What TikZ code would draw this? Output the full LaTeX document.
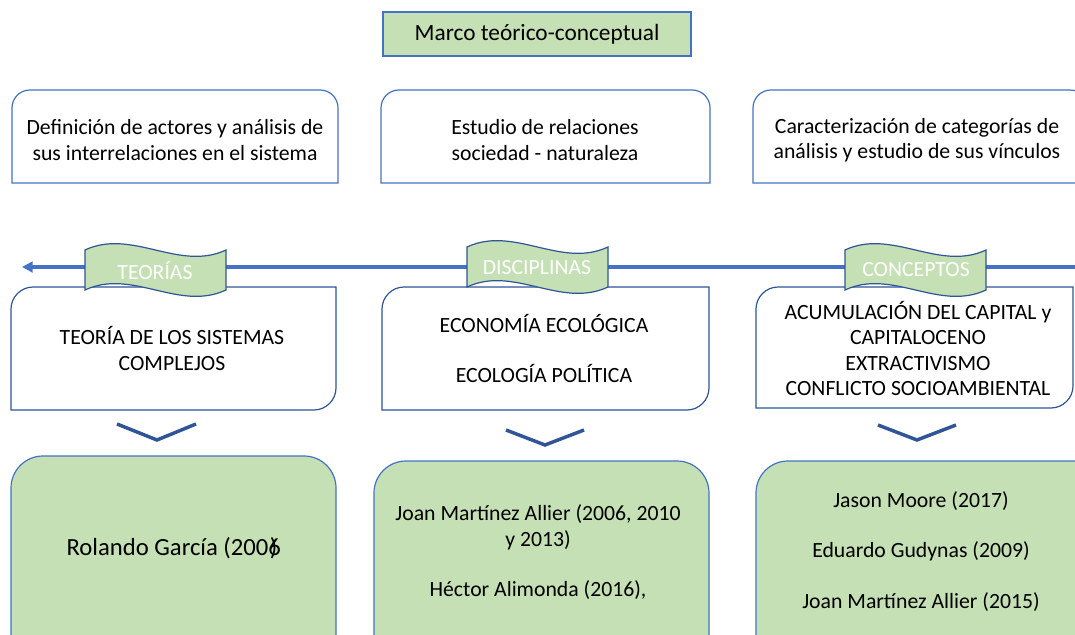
\documentclass[tikz,border=0pt]{standalone}
\usepackage{fontspec}
\setmainfont{Carlito}
\usetikzlibrary{arrows.meta}
\definecolor{blueA}{HTML}{4472C4}
\definecolor{blueB}{HTML}{2F5597}
\definecolor{greenF}{HTML}{C5E0B4}
\begin{document}
\begin{tikzpicture}[x=0.75pt,y=-0.75pt,
  txt/.style={font=\fontsize{16.3}{19}\selectfont, align=center, text=black, inner sep=0pt},
  titletxt/.style={font=\fontsize{17.5}{21}\selectfont, align=center, text=black, inner sep=0pt},
  bigtxt/.style={font=\fontsize{18.5}{21}\selectfont, align=center, text=black, inner sep=0pt},
  bantxt/.style={font=\fontsize{16.3}{19}\selectfont, text=white, inner sep=0pt},
  topbox/.style={draw=blueA, line width=0.9pt, fill=white},
  midbox/.style={draw=blueB, line width=0.9pt, fill=white},
  greenbox/.style={draw=blueA, line width=0.9pt, fill=greenF, rounded corners=24pt},
  banner/.style={draw=blueB, line width=0.9pt, fill=greenF},
  chev/.style={draw=blueB, line width=2.6pt},
  mainarrow/.style={draw=blueA, line width=2.3pt, -{Triangle[length=8pt,width=8pt]}}
]
\useasboundingbox (0,0) rectangle (1075,635);
\clip (0,0) rectangle (1075,635);

% title
\draw[draw=blueA, line width=0.9pt, fill=greenF] (383,12) rectangle (691,56);
\node[titletxt] (title) at (537,34) {Marco teórico-conceptual};

% top boxes
\draw[topbox] (12,183) -- (12,108) .. controls (12,98) and (20,90) .. (30,90) -- (320,90) .. controls (330,90) and (338,98) .. (338,108) -- (338,183) -- cycle;
\draw[topbox] (381,183) -- (381,108) .. controls (381,98) and (389,90) .. (399,90) -- (692,90) .. controls (702,90) and (710,98) .. (710,108) -- (710,183) -- cycle;
\draw[topbox] (753,183) -- (753,108) .. controls (753,98) and (761,90) .. (771,90) -- (1070,90) .. controls (1080,90) and (1088,98) .. (1088,108) -- (1088,183) -- cycle;
\node[txt] (t1) at (175,140) {Definición de actores y análisis de\\sus interrelaciones en el sistema};
\node[txt] (t2) at (545,140) {Estudio de relaciones\\sociedad - naturaleza};
\node[txt] (t3) at (917,140) {Caracterización de categorías de\\análisis y estudio de sus vínculos};

% main arrow
\coordinate (arR) at (1080,267);
\coordinate (arL) at (22,267);
\draw[mainarrow] (arR) -- (arL);

% middle boxes
\draw[midbox] (11,410) -- (11,309) .. controls (11,297) and (21,287) .. (33,287) -- (336,287) -- (336,388) .. controls (336,400) and (326,410) .. (314,410) -- cycle;
\draw[midbox] (382,410) -- (382,309) .. controls (382,297) and (392,287) .. (404,287) -- (709,287) -- (709,388) .. controls (709,400) and (699,410) .. (687,410) -- cycle;
\draw[midbox] (756,408) -- (756,309) .. controls (756,297) and (766,287) .. (778,287) -- (1073,287) -- (1073,386) .. controls (1073,398) and (1063,408) .. (1051,408) -- cycle;
\node[txt] (m1) at (172,348.5) {TEORÍA DE LOS SISTEMAS\\COMPLEJOS};
\node[txt] (m2) at (544,348.5) {ECONOMÍA ECOLÓGICA\\[19pt]ECOLOGÍA POLÍTICA};
\node[txt] (m3) at (918,348.5) {ACUMULACIÓN DEL CAPITAL y\\CAPITALOCENO\\EXTRACTIVISMO\\CONFLICTO SOCIOAMBIENTAL};

% banners
\draw[banner] (85,250) .. controls (132,228) and (179,272) .. (226,250) -- (226,290) .. controls (179,312) and (132,268) .. (85,290) -- cycle;
\draw[banner] (467,247) .. controls (514,225) and (561,269) .. (608,247) -- (608,287) .. controls (561,309) and (514,265) .. (467,287) -- cycle;
\draw[banner] (845,250) .. controls (892,228) and (939,272) .. (986,250) -- (986,290) .. controls (939,312) and (892,268) .. (845,290) -- cycle;
\node[bantxt] (b1) at (155,270) {TEORÍAS};
\node[bantxt] (b2) at (537,268) {DISCIPLINAS};
\node[bantxt] (b3) at (916,270) {CONCEPTOS};

% chevrons
\draw[chev] (117,424) -- (157,440) -- (196,424);
\draw[chev] (506,430) -- (545,445) -- (584,430);
\draw[chev] (878,425) -- (917,440) -- (956,425);

% green boxes
\draw[greenbox] (11,456) rectangle (336,690);
\draw[greenbox] (374,461) rectangle (709,690);
\draw[greenbox] (756,461) rectangle (1120,690);
\node[bigtxt] (g1) at (172,548) {Rolando García (2006\kern-0.45em)};
\node[txt] (g2) at (538,552.5) {Joan Martínez Allier (2006, 2010\\y 2013)\\[19pt]Héctor Alimonda (2016),};
\node[txt] (g3) at (921,551.5) {Jason Moore (2017)\\[19pt]Eduardo Gudynas (2009)\\[19pt]Joan Martínez Allier (2015)};
\end{tikzpicture}
\end{document}
